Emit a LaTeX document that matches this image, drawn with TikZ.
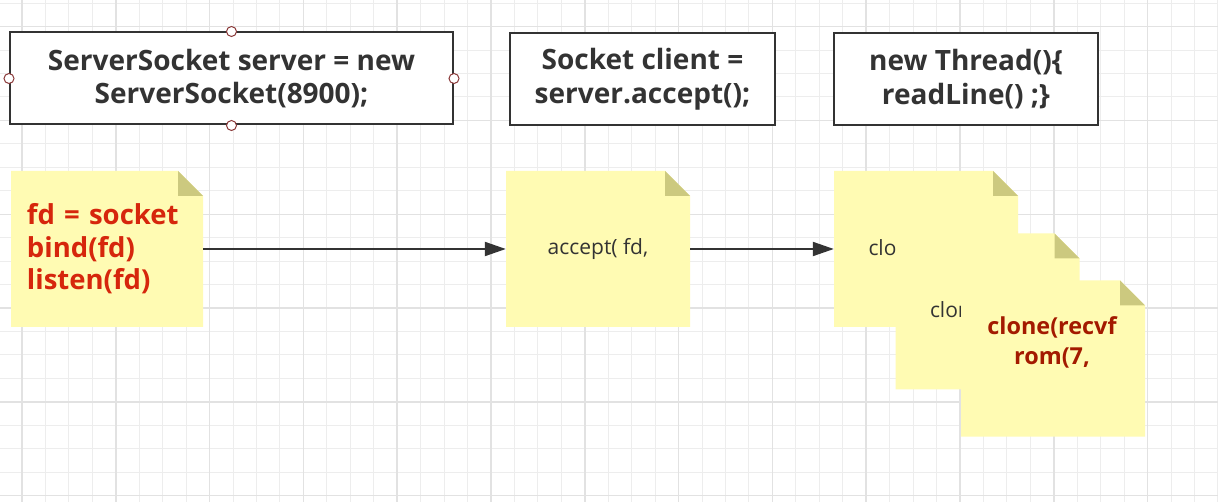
\documentclass[tikz,border=0pt]{standalone}
\usepackage{fontspec}
\setmainfont{Open Sans}
\usepackage{xcolor}
\usetikzlibrary{positioning}
\usetikzlibrary{calc}
\usetikzlibrary{arrows.meta}

\definecolor{gridminor}{HTML}{EDEDED}
\definecolor{gridmajor}{HTML}{E2E2E2}
\definecolor{notefill}{HTML}{FFFBB3}
\definecolor{notefold}{HTML}{CCC97F}
\definecolor{boxline}{HTML}{333333}
\definecolor{notered}{HTML}{D6260C}
\definecolor{clonered}{HTML}{A31A00}
\definecolor{handlered}{HTML}{8B3A3A}

\newcommand{\codefont}{\fontsize{28}{33.5}\selectfont\bfseries}
\newcommand{\notebold}{\fontsize{27.5}{32.5}\selectfont\bfseries}
\newcommand{\clonebold}{\fontsize{23.4}{30.7}\selectfont\bfseries}
\newcommand{\noteplain}{\fontsize{21}{26}\selectfont}

\tikzset{
    codebox/.style={draw=boxline, line width=2pt, fill=white, minimum height=92pt,
        align=center, text=boxline, font=\codefont},
    stickynote/.style={minimum width=184pt, minimum height=156pt, inner sep=0pt,
        text=boxline, font=\noteplain,
        path picture={
            \fill[notefill] (path picture bounding box.south west)
                -- (path picture bounding box.north west)
                -- ([xshift=-25pt]path picture bounding box.north east)
                -- ([yshift=-25pt]path picture bounding box.north east)
                -- (path picture bounding box.south east) -- cycle;
            \fill[notefold] ([xshift=-25pt]path picture bounding box.north east)
                -- ([yshift=-25pt]path picture bounding box.north east)
                -- ([xshift=-25pt, yshift=-25pt]path picture bounding box.north east) -- cycle;
        }},
    handledot/.style={circle, draw=handlered, fill=white, line width=1pt,
        minimum size=10pt, inner sep=0pt}
}

\begin{document}
\begin{tikzpicture}[x=1pt, y=-1pt, >={Triangle[length=21pt, width=14pt]}]
    \useasboundingbox (0,0) rectangle (1218,502);
    \fill[white] (0,0) rectangle (1218,502);

    % grid
    \foreach \i in {0,...,52}
        \draw[gridminor, line width=1pt] ({-1.5+23.45*\i},0) -- ++(0,502);
    \foreach \j in {0,...,21}
        \draw[gridminor, line width=1pt] (0,{3.2+23.45*\j}) -- ++(1218,0);
    \foreach \i in {0,...,12}
        \draw[gridmajor, line width=1.5pt] ({22+93.8*\i},0) -- ++(0,502);
    \foreach \j in {0,...,5}
        \draw[gridmajor, line width=1.5pt] (0,{26.7+93.8*\j}) -- ++(1218,0);

    % code boxes
    \node [codebox, minimum width=443pt] (server) at (231.5,78.5) {ServerSocket server = new\\ServerSocket(8900);};
    \node [codebox, minimum width=265pt] (client) at (642.5,79) {Socket client =\\server.accept();};
    \node [codebox, minimum width=264pt] (thread) at (966,79) {new Thread()\{\\readLine() ;\}};

    \foreach \side in {north,south,east,west}
        \node [handledot] (h-\side) at (server.\side) {};

    % notes
    \node [stickynote, minimum width=192pt, text width=160pt, align=left,
        text=notered, font=\notebold] (socket) at (107,249) {fd = socket\\bind(fd)\\listen(fd)};
    \node [stickynote] (acceptnote) at (598,249) {accept( fd,};
    \node [stickynote] (clone1) at (926,249) {clone(recvfr};
    \node [stickynote] (clone2) at ($(clone1)+(61.5,62.5)$) {clone(recvfr};
    \node [stickynote] (clone3) at ($(clone2)+(65.5,47)$) {};
    \node [clonered, font=\clonebold, align=center] (clonetext) at ($(clone3)+(-1,-16)$) {clone(recvf\\rom(7,};

    \path (socket) edge[->, draw=boxline, line width=2pt] (acceptnote);
    \path (acceptnote) edge[->, draw=boxline, line width=2pt] (clone1);
\end{tikzpicture}
\end{document}
